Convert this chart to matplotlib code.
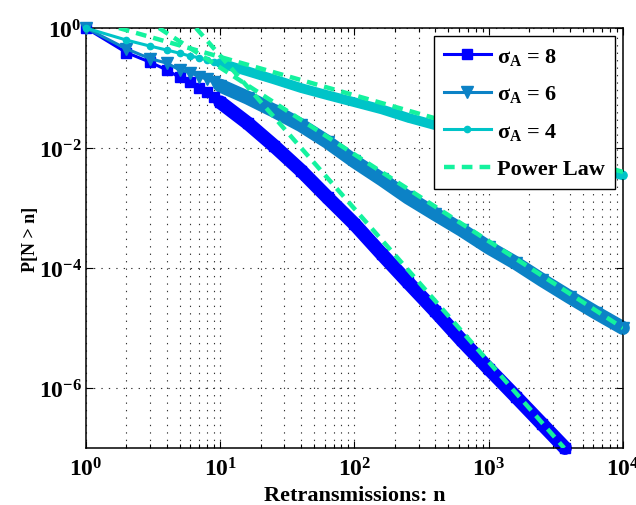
import matplotlib
matplotlib.use("Agg")
import matplotlib.pyplot as plt
from matplotlib.ticker import FixedLocator, LogLocator, NullLocator, NullFormatter, LogFormatterSciNotation

plt.rcParams.update({
    "font.family": ["Liberation Serif", "DejaVu Serif"],
    "font.weight": "bold",
    "axes.labelweight": "bold",
    "mathtext.fontset": "custom",
    "mathtext.rm": "Liberation Serif:bold",
    "mathtext.it": "Liberation Serif:italic:bold",
    "mathtext.bf": "Liberation Serif:bold",
})

# first ten retransmission counts, then a sparse tail
n_head = [1, 2, 3, 4, 5, 6, 7, 8, 9, 10]
n_tail = [16, 25, 40, 63, 100, 160, 250, 400, 630, 1000, 1600, 2500, 4000, 6300, 10000]
n_tail8 = [16, 25, 40, 63, 100, 160, 250, 400, 630, 1000, 1600, 2500, 3700]

p8_head = [1.0, 0.39, 0.27, 0.20, 0.15, 0.125, 0.10, 0.085, 0.072, 0.058]
p8_tail = [0.026, 0.011, 4.2e-3, 1.5e-3, 5.4e-4, 1.7e-4, 5.8e-5, 1.9e-5, 6.2e-6,
           2.1e-6, 7.1e-7, 2.5e-7, 1.0e-7]

p6_head = [1.0, 0.45, 0.31, 0.26, 0.20, 0.18, 0.155, 0.14, 0.125, 0.11]
p6_tail = [0.069, 0.042, 0.024, 0.0126, 6.0e-3, 3.0e-3, 1.5e-3, 7.9e-4, 4.3e-4,
           2.2e-4, 1.2e-4, 6.3e-5, 3.3e-5, 1.8e-5, 1.0e-5]

p4_head = [1.0, 0.63, 0.50, 0.43, 0.38, 0.34, 0.32, 0.29, 0.275, 0.26]
p4_tail = [0.19, 0.14, 0.10, 0.076, 0.058, 0.044, 0.032, 0.024, 0.018,
           0.0138, 0.0105, 7.9e-3, 6.0e-3, 4.7e-3, 3.5e-3]

# power-law fits, as the two end points of each dashed line
pl8_n, pl8_p = [6.6, 3650], [1.0, 1.0e-7]
pl6_n, pl6_p = [3.5, 10000], [1.0, 1.0e-5]
pl4_n, pl4_p = [1.76, 10000], [1.0, 4.0e-3]

yticks = [1e-6, 1e-4, 1e-2, 1]

fig = plt.figure(figsize=(6.36, 5.06), dpi=100)
ax = fig.add_axes([0.1352, 0.1126, 0.8443, 0.8300])

curves = [
    (n_tail8, p8_head, p8_tail, "#0000FF", "s", 6.5, 10, r"$\mathrm{\sigma}_\mathbf{A}$ = 8"),
    (n_tail, p6_head, p6_tail, "#0C82C6", "v", 8.5, 10, r"$\mathrm{\sigma}_\mathbf{A}$ = 6"),
    (n_tail, p4_head, p4_tail, "#00C4C8", "o", 4.5, 7, r"$\mathrm{\sigma}_\mathbf{A}$ = 4"),
]
for tail_n, head_p, tail_p, color, marker, ms, band, label in curves:
    n = n_head + tail_n
    p = head_p + tail_p
    # dense markers in the tail merge into a thick band
    ax.plot(n[len(n_head) - 1:], p[len(n_head) - 1:], color=color, lw=band,
            solid_capstyle="round", solid_joinstyle="round", clip_on=False, zorder=2)
    ax.plot(n, p, color=color, lw=2.2, marker=marker, ms=ms, mec=color, mfc=color,
            label=label, clip_on=False, zorder=3)

green = "#14F29E"
for i, (xn, yp) in enumerate([(pl8_n, pl8_p), (pl6_n, pl6_p), (pl4_n, pl4_p)]):
    ax.plot(xn, yp, color=green, lw=3.2, dashes=(2.4, 1.6),
            label="Power Law" if i == 0 else None, zorder=4)

ax.set_xscale("log")
ax.set_yscale("log")
ax.set_xlim(1, 1e4)
ax.set_ylim(1e-7, 1)

ax.yaxis.set_major_locator(FixedLocator(yticks))
ax.yaxis.set_major_formatter(LogFormatterSciNotation())
ax.yaxis.set_minor_locator(NullLocator())
ax.xaxis.set_minor_locator(LogLocator(base=10, subs=range(2, 10)))
ax.xaxis.set_minor_formatter(NullFormatter())

grid_ls = (0, (1.2, 5.5))
ax.grid(True, which="major", color="#333333", lw=0.8, ls=grid_ls)
ax.grid(True, which="minor", axis="x", color="#333333", lw=0.8, ls=grid_ls)

ax.tick_params(which="both", direction="in", top=True, right=True, labelsize=17, width=0.8)
ax.tick_params(which="major", length=5)
ax.tick_params(which="minor", length=3)
ax.tick_params(axis="x", pad=7)
ax.tick_params(axis="y", pad=3)
for s in ax.spines.values():
    s.set_linewidth(1.1)

ax.set_xlabel("Retransmissions: n", fontsize=16, labelpad=3)
ax.set_ylabel("P[N > n]", fontsize=13, labelpad=0)

leg = ax.legend(loc="upper right", fontsize=16, numpoints=1, handlelength=2.1,
                handletextpad=0.3, labelspacing=0.75, borderaxespad=0.35,
                borderpad=0.45, fancybox=False, framealpha=1, edgecolor="black")
leg.get_frame().set_linewidth(1.0)
leg.set_zorder(10)

fig.savefig("out.png", dpi=100)
